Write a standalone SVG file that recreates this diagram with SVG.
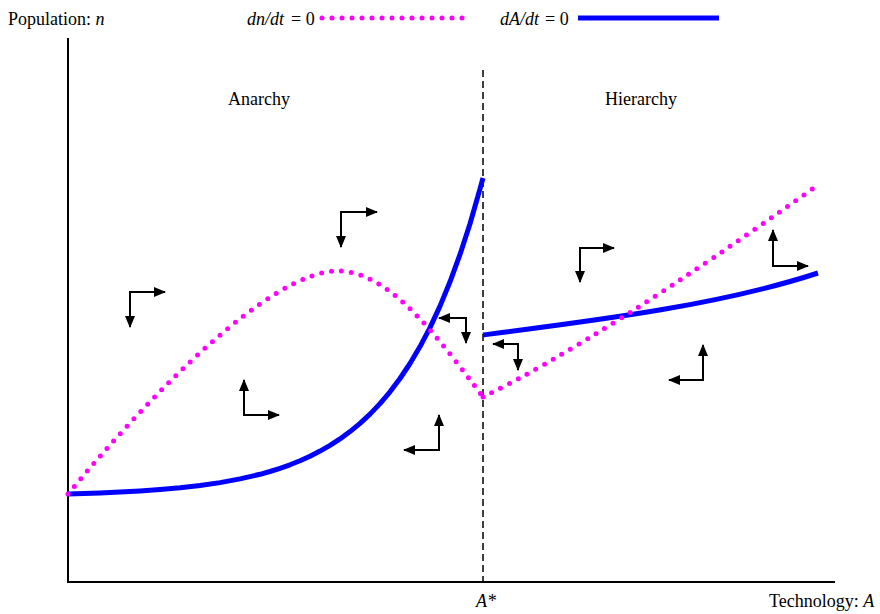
<svg xmlns="http://www.w3.org/2000/svg" width="880" height="614" viewBox="0 0 880 614">
<style>
  text { font-family: "Liberation Serif", "Times New Roman", serif; font-size: 18px; fill: #000; }
  .it { font-style: italic; }
  .axis { stroke: #000; stroke-width: 2; fill: none; }
  .blue { stroke: #0000ff; stroke-width: 5; fill: none; stroke-linejoin: round; }
  .dots { stroke: #ff00ff; stroke-width: 5; fill: none; stroke-linecap: round; stroke-dasharray: 0 10; }
  .arr { stroke: #000; stroke-width: 2; fill: none; marker-end: url(#ah); }
</style>
<defs>
  <marker id="ah" markerUnits="userSpaceOnUse" markerWidth="12" markerHeight="12" viewBox="0 0 12 12" refX="11" refY="6" orient="auto">
    <path d="M0,1 L12,6 L0,11 z" fill="#000"/>
  </marker>
</defs>
<rect width="880" height="614" fill="#fff"/>

<g id="axes">
  <line class="axis" x1="68" y1="38" x2="68" y2="583"/>
  <line class="axis" x1="67" y1="582" x2="835" y2="582"/>
  <line x1="483" y1="70" x2="483" y2="582" stroke="#000" stroke-width="1.5" stroke-dasharray="7 4"/>
</g>

<g id="legend">
  <text x="8" y="25">Population: <tspan class="it">n</tspan></text>
  <text class="it" x="247" y="25">dn/dt</text>
  <text x="291" y="25">= 0</text>
  <line class="dots" x1="322" y1="18" x2="463" y2="18"/>
  <text class="it" x="500" y="25">dA/dt</text>
  <text x="545" y="25">= 0</text>
  <line class="blue" x1="578" y1="18" x2="719" y2="18"/>
</g>

<g id="labels">
  <text x="259" y="105" text-anchor="middle">Anarchy</text>
  <text x="641" y="105" text-anchor="middle">Hierarchy</text>
  <text class="it" x="476" y="607">A*</text>
  <text x="769" y="607">Technology: <tspan class="it">A</tspan></text>
</g>

<g id="curves">
  <path id="dAdt-left" class="blue" d="M68,494 L100,493 L120,492.1 L140,491 L160,489.6 L180,487.8 L200,485.5 L220,482.6 L240,478.9 L260,474.3 L270,471.5 L280,468.3 L290,464.8 L300,460.8 L310,456.2 L320,451.1 L330,445.4 L340,438.9 L350,431.6 L360,423.4 L370,414.1 L380,403.6 L390,391.8 L400,378.5 L410,363.5 L420,346.6 L430,327.6 L440,306.1 L450,281.8 L460,254.4 L470,223.7 L480,188.9 L483,178"/>
  <path id="dAdt-right" class="blue" d="M483,335 C600,320 720,305 818,273"/>
  <path id="dndt-left" class="dots" d="M68,494 C150,395 270,271 338,271 C390,271 440,340 483,397"/>
  <path id="dndt-right" class="dots" d="M483,397 Q600,340 818,185"/>
</g>

<g id="connectors">
  <g id="a1"><line class="arr" x1="130" y1="292" x2="165" y2="292"/><line class="arr" x1="130" y1="291" x2="130" y2="327"/></g>
  <g id="a2"><line class="arr" x1="341" y1="212" x2="377" y2="212"/><line class="arr" x1="341" y1="211" x2="341" y2="247"/></g>
  <g id="a3"><line class="arr" x1="244" y1="415" x2="244" y2="380"/><line class="arr" x1="243" y1="415" x2="279" y2="415"/></g>
  <g id="a4"><line class="arr" x1="439" y1="450" x2="439" y2="415"/><line class="arr" x1="440" y1="450" x2="404" y2="450"/></g>
  <g id="a5"><line class="arr" x1="466" y1="318" x2="439" y2="318"/><line class="arr" x1="466" y1="317" x2="466" y2="343"/></g>
  <g id="a6"><line class="arr" x1="518" y1="344" x2="493" y2="344"/><line class="arr" x1="518" y1="343" x2="518" y2="370"/></g>
  <g id="a7"><line class="arr" x1="580" y1="248" x2="614" y2="248"/><line class="arr" x1="580" y1="247" x2="580" y2="282"/></g>
  <g id="a8"><line class="arr" x1="773" y1="266" x2="773" y2="230"/><line class="arr" x1="772" y1="266" x2="808" y2="266"/></g>
  <g id="a9"><line class="arr" x1="703" y1="380" x2="703" y2="345"/><line class="arr" x1="704" y1="380" x2="669" y2="380"/></g>
</g>
</svg>
